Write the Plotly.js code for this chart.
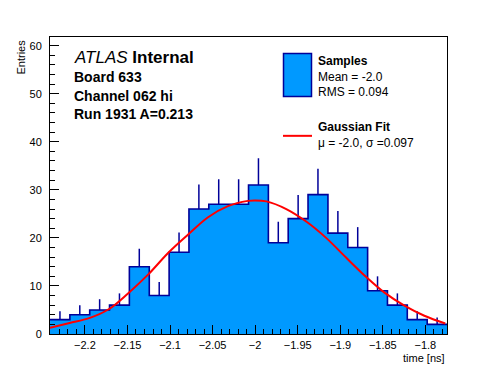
<!DOCTYPE html>
<html><head><meta charset="utf-8">
<script src="https://cdn.plot.ly/plotly-3.0.1.min.js"></script>
<style>html,body{margin:0;padding:0;background:#fff}#chart{width:496px;height:372px}</style>
</head><body><div id="chart"></div>
<script>
// Histogram data (time in ns)
const binCenters = [-2.2293,-2.2060,-2.1827,-2.1594,-2.1361,-2.1127,-2.0894,-2.0661,-2.0428,-2.0194,
                    -1.9961,-1.9728,-1.9495,-1.9262,-1.9028,-1.8795,-1.8562,-1.8329,-1.8096,-1.7862];
const binWidth = 0.02332;
const entries = [3,4,5,6,14,8,17,26,27,27,31,19,24,29,21,18,9,6,3,2];
const entryErrors = [1.73,2.0,2.24,2.45,3.74,2.83,4.12,5.10,5.20,5.20,5.57,4.36,4.90,5.39,4.58,4.24,3.0,2.45,1.73,1.41];
// Gaussian fit curve
const fitX = [-2.241,-2.218,-2.195,-2.1716,-2.149,-2.1255,-2.102,-2.0787,-2.0553,-2.032,-2.0085,-2.0006,
              -1.9868,-1.9634,-1.94,-1.9166,-1.8932,-1.8698,-1.848,-1.8246,-1.8012,-1.7766];
const fitY = [1.3,2.3,3.3,5.2,8.5,12.4,16.9,20.7,24.3,26.6,27.7,27.8,
              27.6,26.0,23.4,20.0,15.9,11.9,8.6,5.9,3.8,2.2];
const xTicks = [-2.2,-2.15,-2.1,-2.05,-2,-1.95,-1.9,-1.85,-1.8];
const yTicks = [0,10,20,30,40,50,60];

const edgesX = binCenters.map(c => c - binWidth/2);
edgesX.push(binCenters[binCenters.length-1] + binWidth/2);
const stepY = entries.slice(); stepY.push(entries[entries.length-1]);

const FONT = '"Liberation Sans", Arial, Helvetica, sans-serif';
const navy = '#000099';

const traces = [
  {type:'scatter', x:binCenters, y:entries, mode:'markers',
   marker:{size:1,color:'rgba(0,0,0,0)'},
   error_y:{type:'data', symmetric:false, array:entryErrors, arrayminus:entries.map(()=>0),
            color:navy, thickness:1.5, width:0},
   hoverinfo:'skip', showlegend:false},
  {type:'scatter', x:edgesX, y:stepY, mode:'lines', line:{shape:'hv', color:navy, width:1.6},
   fill:'tozeroy', fillcolor:'#0099ff', showlegend:false},
  {type:'scatter', x:fitX, y:fitY, mode:'lines', line:{shape:'spline', color:'#ff0000', width:2},
   showlegend:false}
];

const L=50, R=49, T=37, B=37.5, W=496, H=372;
const pw = W-L-R, ph = H-T-B;
const px = v => (v-L)/pw;            // page x -> paper
const py = v => (H-B-v)/ph;          // page y -> paper

const ann = (text, x, y, size, opts) => Object.assign({
  text, xref:'paper', yref:'paper', x:px(x), y:py(y), xanchor:'left', yanchor:'middle', align:'left',
  showarrow:false, font:{family:FONT, size, color:'#000'}}, opts||{});

const layout = {
  width:W, height:H, margin:{l:L, r:R, t:T, b:B},
  paper_bgcolor:'#fff', plot_bgcolor:'#fff',
  font:{family:FONT, size:11, color:'#000'},
  showlegend:false,
  xaxis:{range:[-2.241,-1.7746], tickmode:'array', tickvals:xTicks, ticktext:xTicks.map(v=>String(v).replace('-','\u2212')),
         ticks:'inside', ticklen:9, tickwidth:1, tickcolor:'#000', ticklabelstandoff:1,
         minor:{dtick:0.01, tick0:-2.2, ticks:'inside', ticklen:5, tickcolor:'#000', showgrid:false},
         showline:true, mirror:true, linecolor:'#000', linewidth:1, showgrid:false, zeroline:false,
         tickfont:{size:11}},
  yaxis:{range:[0,61.8], tickmode:'array', tickvals:yTicks,
         ticks:'inside', ticklen:9, tickwidth:1, tickcolor:'#000', ticklabelstandoff:5,
         minor:{dtick:2, tick0:0, ticks:'inside', ticklen:5, tickcolor:'#000', showgrid:false},
         showline:true, mirror:true, linecolor:'#000', linewidth:1, showgrid:false, zeroline:false,
         tickfont:{size:11}},
  shapes:[
    {type:'rect', xref:'paper', yref:'paper', x0:px(283.5), x1:px(311.5), y0:py(53.5), y1:py(96.5),
     fillcolor:'#0099ff', line:{color:navy, width:1.5}},
    {type:'line', xref:'paper', yref:'paper', x0:px(283), x1:px(312), y0:py(136), y1:py(136),
     line:{color:'#ff0000', width:2}}
  ],
  annotations:[
    ann('<i>ATLAS</i> <b>Internal</b>', 72, 57.5, 17),
    ann('<b>Board 633</b>', 72, 77, 14),
    ann('<b>Channel 062 hi</b>', 72, 96, 14),
    ann('<b>Run 1931 A=0.213</b>', 72, 114.5, 14),
    ann('<b>Samples</b><br>Mean = -2.0<br>RMS = 0.094', 316, 77, 12),
    ann('<b>Gaussian Fit</b><br>\u03bc = -2.0, \u03c3 =0.097', 316, 135, 12),
    ann('Entries', 20, 37, 11, {xanchor:'center', yanchor:'top', textangle:-90}),
    ann('time [ns]', 446.5, 359, 11, {xanchor:'right'})
  ]
};
Plotly.newPlot('chart', traces, layout, {staticPlot:true, displayModeBar:false});
</script></body></html>
